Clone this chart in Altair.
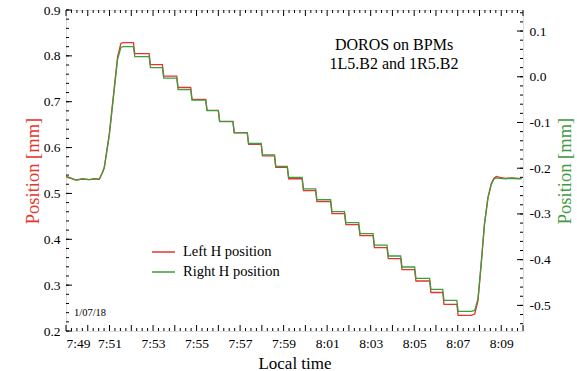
import altair as alt
import numpy as np
import pandas as pd

RED = "#e5352b"
GREEN = "#3f9b3f"
FONT = "Liberation Serif"

# time in minutes after 7:49
start_t = [0.01, 0.15, 0.46, 0.75, 1.07, 1.30, 1.53]
start_red = [0.537, 0.535, 0.529, 0.532, 0.530, 0.532, 0.531]
start_green = [0.534, 0.533, 0.528, 0.530, 0.529, 0.530, 0.530]

rise_t = [1.68, 1.76, 1.99, 2.22, 2.37, 2.52]
rise_red = [0.546, 0.557, 0.630, 0.732, 0.798, 0.827]
rise_green = [0.545, 0.555, 0.626, 0.727, 0.792, 0.818]

# plateau (step) end times, first plateau starts after the rise
step_end_t = [3.10, 3.82, 4.43, 5.09, 5.73, 6.42, 7.00, 7.67, 8.33, 8.97,
              9.58, 10.17, 10.85, 11.47, 12.16, 12.80, 13.45, 14.11, 14.75,
              15.38, 16.02, 16.71, 17.31, 17.96, 18.62]
red_levels = [0.829, 0.805, 0.781, 0.756, 0.731, 0.705, 0.681, 0.657, 0.632,
              0.607, 0.582, 0.557, 0.532, 0.506, 0.482, 0.456, 0.432, 0.408,
              0.382, 0.358, 0.334, 0.309, 0.284, 0.258, 0.234]
# right-axis values (mm)
green_levels = [0.066, 0.044, 0.020, -0.003, -0.028, -0.051, -0.074, -0.098,
                -0.122, -0.146, -0.171, -0.196, -0.220, -0.245, -0.269, -0.295,
                -0.319, -0.343, -0.368, -0.392, -0.416, -0.441, -0.465, -0.489,
                -0.513]

end_t = [18.78, 18.93, 19.08, 19.23, 19.39, 19.54, 19.66, 19.77, 19.95, 20.20,
         20.50, 20.75, 20.93]
end_red = [0.237, 0.265, 0.346, 0.433, 0.491, 0.521, 0.533, 0.537, 0.535,
           0.533, 0.534, 0.533, 0.533]
end_green = [0.243, 0.268, 0.347, 0.432, 0.489, 0.518, 0.530, 0.533, 0.532,
             0.531, 0.532, 0.531, 0.531]

OFFSET = 0.754  # left-axis value of right-axis zero
PLATEAU_START = 2.62
EDGE = 0.06

def build(levels, start_v, rise_v, end_v, shift):
    t, v = [], []
    t += start_t; v += [x - shift for x in start_v]
    t += rise_t; v += [x - shift for x in rise_v]
    for i, (te, lv) in enumerate(zip(step_end_t, levels)):
        ts = PLATEAU_START if i == 0 else step_end_t[i - 1] + EDGE
        t += [ts, te]; v += [lv, lv]
    t += end_t; v += [x - shift for x in end_v]
    return t, v

rt, rv = build(red_levels, start_red, rise_red, end_red, 0.0)
gt, gv = build(green_levels, start_green, rise_green, end_green, OFFSET)

red_df = pd.DataFrame({"t": rt, "v": rv, "series": "Left H position"})
green_df = pd.DataFrame({"t": gt, "w": gv, "series": "Right H position"})

X_DOMAIN = [0, 21]
L_DOMAIN = [0.2, 0.9]
R_DOMAIN = [-0.556, 0.146]

x_major = list(range(0, 22))
x_minor = [round(v, 2) for v in np.arange(0, 21.01, 0.25) if abs(v - round(v)) > 1e-6]
x_labels = list(range(0, 21, 2))
l_major = [0.2, 0.3, 0.4, 0.5, 0.6, 0.7, 0.8, 0.9]
l_minor = [round(v, 2) for v in np.arange(0.2, 0.901, 0.02)]
r_major = [-0.5, -0.4, -0.3, -0.2, -0.1, 0.0, 0.1]
r_minor = [round(v, 2) for v in np.arange(-0.54, 0.141, 0.02)]

W, H = 457, 321
YTITLE = "Position\u00a0[mm]"

x_axis = alt.Axis(values=x_labels, ticks=False, domain=False, grid=False,
                  labelExpr="floor((469 + datum.value) / 60) + ':' + ((469 + datum.value) % 60 < 10 ? '0' : '') + ((469 + datum.value) % 60)",
                  labelFont=FONT, labelFontSize=13.5, labelColor="black", labelPadding=5,
                  title="Local time", titleFont=FONT, titleFontSize=17, titleFontWeight="normal",
                  titleColor="black", titleBaseline="alphabetic", titleY=37)

def X(field="t"):
    return alt.X(f"{field}:Q", scale=alt.Scale(domain=X_DOMAIN, nice=False, zero=False), axis=x_axis)

l_axis = alt.Axis(values=l_major, ticks=False, domain=False, grid=False, format=".1f",
                  labelFont=FONT, labelFontSize=13.5, labelColor="black", labelPadding=6,
                  title=YTITLE, titleFont=FONT, titleFontSize=18.5, titleFontWeight="normal",
                  titleColor=RED, titleBaseline="alphabetic", titleX=-28, titleAngle=-90)

r_axis = alt.Axis(orient="right", values=r_major, ticks=False, domain=False, grid=False,
                  labelExpr="replace(format(datum.value, '.1f'), '\u2212', '-')",
                  labelFont=FONT, labelFontSize=13.5, labelColor="black", labelPadding=6,
                  title=YTITLE, titleFont=FONT, titleFontSize=18.5, titleFontWeight="normal",
                  titleColor=GREEN, titleBaseline="alphabetic", titleX=47, titleAngle=-90)

def YL():
    return alt.Y("v:Q", scale=alt.Scale(domain=L_DOMAIN, nice=False, zero=False), axis=l_axis)

def YR():
    return alt.Y("w:Q", scale=alt.Scale(domain=R_DOMAIN, nice=False, zero=False), axis=r_axis)

color = alt.Color("series:N",
                  scale=alt.Scale(domain=["Left H position", "Right H position"], range=[RED, GREEN]),
                  legend=alt.Legend(orient="none", legendX=85, legendY=232, title=None,
                                    symbolType="stroke", symbolSize=529, symbolStrokeWidth=1.3,
                                    labelFont=FONT, labelFontSize=14.5, labelColor="black",
                                    labelOffset=7, clipHeight=20, rowPadding=0, padding=0))

red_line = alt.Chart(red_df).mark_line(strokeWidth=1.3).encode(x=X(), y=YL(), color=color)
green_line = alt.Chart(green_df).mark_line(strokeWidth=1.3).encode(x=X(), y=YR(), color=color)

def yticks(vals, field, enc, x0, x1):
    return alt.Chart(pd.DataFrame({field: vals})).mark_rule(color="black", strokeWidth=1).encode(
        y=enc, x=alt.value(x0), x2=alt.value(x1))

def xticks(vals, y0, y1):
    return alt.Chart(pd.DataFrame({"t": vals})).mark_rule(color="black", strokeWidth=1).encode(
        x=X(), y=alt.value(y0), y2=alt.value(y1))

left_ticks = [
    yticks(l_major, "v", YL(), 0, 6),
    yticks(l_minor, "v", YL(), 0, 3),
]
right_ticks = [
    yticks(r_major, "w", YR(), W, W - 6),
    yticks(r_minor, "w", YR(), W, W - 3),
]
x_tick_layers = [
    xticks(x_major, H, H - 6),
    xticks(x_minor, H, H - 3),
    xticks(x_major, 0, 6),
    xticks(x_minor, 0, 3),
]

one = pd.DataFrame({"a": [0]})
note = alt.Chart(one).mark_text(font=FONT, fontSize=16, color="black", align="center",
                                baseline="alphabetic", lineHeight=19).encode(
    x=alt.value(328), y=alt.value(40),
    text=alt.value(["DOROS on BPMs", "1L5.B2 and 1R5.B2"]))
date = alt.Chart(one).mark_text(font=FONT, fontSize=10.5, color="black", align="left",
                                baseline="alphabetic").encode(
    x=alt.value(8), y=alt.value(306), text=alt.value("1/07/18"))

left = alt.layer(red_line, *left_ticks, *x_tick_layers, note, date)
right = alt.layer(green_line, *right_ticks)

chart = alt.layer(left, right).resolve_scale(y="independent").properties(
    width=W, height=H, autosize="none",
    padding={"left": 66, "top": 10, "right": 54, "bottom": 40},
).configure_view(stroke="black", strokeWidth=1).configure(background="white")

chart.save("out.html", embed_options={"renderer": "svg", "actions": False})
